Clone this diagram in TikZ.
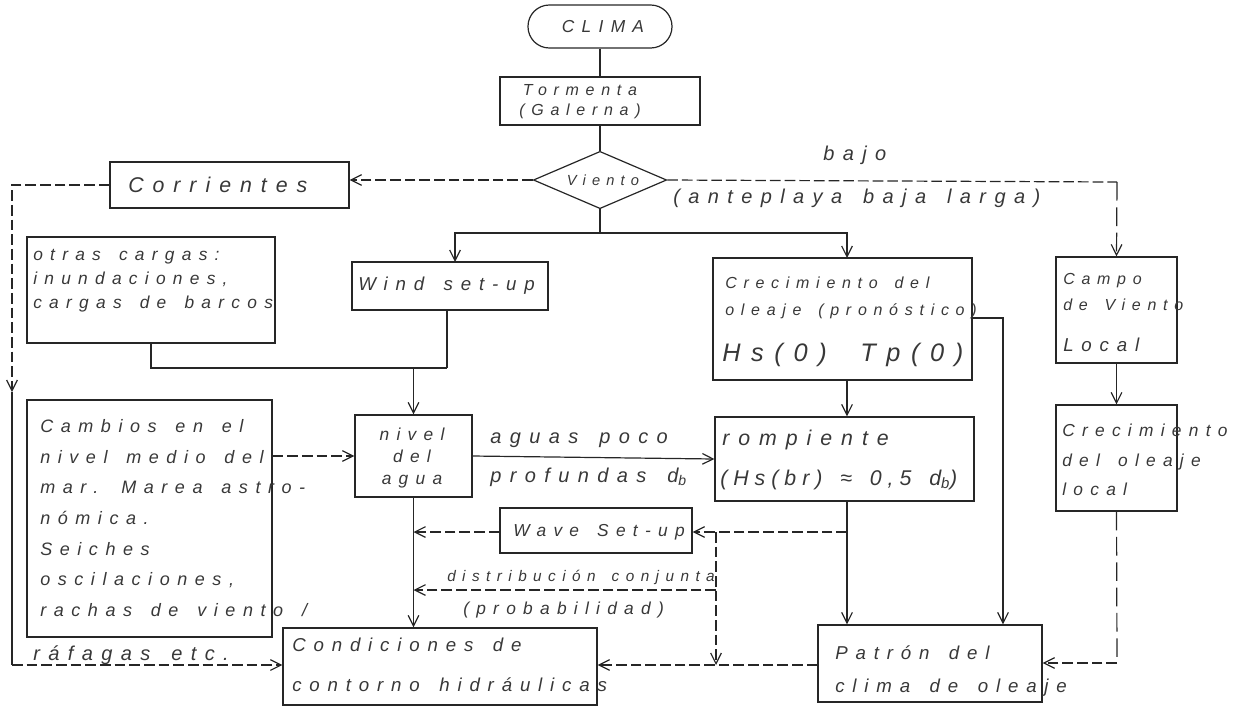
\documentclass[tikz,border=0pt]{standalone}
\usepackage{fontspec}
\setmainfont{Liberation Sans}
\newfontfamily\hand[LetterSpace=42, WordSpace=1.5]{Liberation Sans}
\usetikzlibrary{arrows.meta,shapes.geometric,fit}

\tikzset{
  ink/.style={draw=black!85, line width=0.9pt},
  box/.style={ink, rectangle, inner sep=0pt, fit={#1}},
  arr/.style={ink, -{Straight Barb[length=8pt,width=8pt]}},
  dsh/.style={dash pattern=on 8pt off 3pt},
  ldsh/.style={dash pattern=on 14pt off 5pt},
  hw/.style 2 args={inner sep=0pt, text=black!78, align=left, anchor=west,
    font=\hand\itshape\fontsize{#1}{#2}\selectfont},
}

\begin{document}
\begin{tikzpicture}[x=0.75pt, y=-0.75pt]
\useasboundingbox (0,0) rectangle (1259,708);

% ---------- shapes ----------
\node[ink, rectangle, rounded corners=16pt, inner sep=0pt, fit={(528,5) (672,48)}] (clima) {};
\node[box={(500,77) (700,125)}] (torm) {};
\node[ink, diamond, inner sep=0pt, minimum width=100pt, minimum height=43pt] (vien) at (600,180) {};
\node[box={(110,162) (349,208)}] (corr) {};
\node[box={(27,237) (275,343)}] (otras) {};
\node[box={(352,262) (548,310)}] (windsu) {};
\node[box={(713,258) (972,380)}] (crec) {};
\node[box={(1056,257) (1177,363)}] (campo) {};
\node[box={(1056,405) (1177,511)}] (crecl) {};
\node[box={(27,400) (272,637)}] (camb) {};
\node[box={(355,415) (472,497)}] (nivel) {};
\node[box={(715,417) (974,501)}] (romp) {};
\node[box={(500,508) (692,553)}] (wave) {};
\node[box={(283,628) (597,705)}] (cond) {};
\node[box={(818,625) (1042,702)}] (patron) {};

% ---------- texts ----------
\node[hw={13}{16}, anchor=center] (tclima) at (603,27) {CLIMA};
\node[hw={12}{15}, align=center, anchor=center] (ttorm) at (580,102) {Tormenta\\(Galerna)};
\node[hw={11}{14}, anchor=center] (tvien) at (603,180) {Viento};
\node[hw={16}{18}] (tcorr) at (128,185) {Corrientes};
\node[hw={15}{18}] (tbajo) at (823,155) {bajo};
\node[hw={15}{16}] (tante) at (673,198) {(anteplaya baja larga)};
\node[hw={13}{18}] (totras) at (33,281) {otras cargas:\\inundaciones,\\cargas de barcos};
\node[hw={14}{18}] (twind) at (358,286) {Wind set-up};
\node[hw={12}{20}] (tcrec) at (725,298) {Crecimiento del\\oleaje (pronóstico)};
\node[hw={19}{22}] (ths) at (722,355) {Hs(0)};
\node[hw={19}{22}] (ttp) at (860,355) {Tp(0)};
\node[hw={12}{19}] (tcampo) at (1063,292) {Campo\\de Viento};
\node[hw={14}{16}] (tlocal) at (1063,345) {Local};
\node[hw={13}{22}] (tcrecl) at (1062,460) {Crecimiento\\del oleaje\\local};
\node[hw={13}{16.5}, align=center, anchor=center] (tnivel) at (412,458) {nivel\\del\\agua};
\node[hw={15}{18}] (taguas) at (490,440) {aguas poco};
\node[hw={15}{18}] (tprof) at (490,477) {profundas d\textsubscript{b}};
\node[hw={16}{18}] (tromp) at (722,440) {rompiente};
\node[hw={16}{20}, font=\hand\itshape\addfontfeatures{LetterSpace=28}\fontsize{16}{20}\selectfont] (thsbr) at (720,480) {(Hs(br) ≈ 0,5 d\textsubscript{b})};
\node[hw={13}{16}] (twave) at (513,532) {Wave Set-up};
\node[hw={13.5}{23}] (tcamb) at (40,518) {Cambios en el\\nivel medio del\\mar. Marea astro-\\nómica.\\Seiches\\oscilaciones,\\rachas de viento /};
\node[hw={15}{16}] (trafa) at (33,655) {ráfagas etc.};
\node[hw={11.5}{16}] (tdist) at (447,577) {distribución conjunta};
\node[hw={13}{16}] (tprob) at (463,610) {(probabilidad)};
\node[hw={14}{30}] (tcond) at (292,665) {Condiciones de\\contorno hidráulicas};
\node[hw={14}{25}] (tpatr) at (835,671) {Patrón del\\clima de oleaje};

% ---------- junction points ----------
\coordinate (split) at (600,233);
\coordinate (leftA) at (12,185);
\coordinate (leftB) at (12,392);
\coordinate (leftC) at (12,665);
\coordinate (bajoA) at (1117,182);
\coordinate (join) at (447,368);
\coordinate (stubA) at (1003,318);
\coordinate (dlA) at (1117,663);
\coordinate (wvR) at (847,532);
\coordinate (dvA) at (716,532);
\coordinate (dvB) at (716,665);
\coordinate (diA) at (716,590);

% ---------- connectors ----------
\draw[ink] (clima.south) -- (torm.north);
\draw[ink] (torm.south) -- (vien.north);
\draw[ink] (vien.south) -- (split);
\draw[arr] (split) -| (455,262);
\draw[arr] (split) -| (847,258);
\draw[arr, dsh] (vien.west) -- (corr.east |- vien.west);
\draw[arr, dsh] (corr.west |- leftA) -- (leftA) -- (leftB);
\draw[ink] (leftB) -- (leftC);
\draw[arr, dsh] (leftC) -- (cond.west |- leftC);
\draw[ink, dsh] (vien.east) -- (bajoA);
\draw[arr, ldsh] (bajoA) -- (campo.north);
\draw[arr] (campo.south) -- (crecl.north);
\draw[ink, ldsh] (crecl.south) -- (dlA);
\draw[arr, dsh] (dlA) -- (patron.east |- dlA);
\draw[ink] (otras.south) |- (join);
\draw[ink] (windsu.south -| join) -- (join);
\draw[arr] (join -| nivel.north) -- (nivel.north);
\draw[arr, dsh] (camb.east |- nivel.west) -- (nivel.west);
\draw[arr] (nivel.east) -- (romp.west);
\draw[arr] (crec.south -| wvR) -- (romp.north -| wvR);
\draw[arr] (romp.south -| wvR) -- (patron.north -| wvR);
\draw[arr] (crec.east |- stubA) -- (stubA) -- (stubA |- patron.north);
\draw[arr, dsh] (wvR) -- (wave.east |- wvR);
\draw[arr, dsh] (wave.west |- wvR) -- (nivel.south |- wvR);
\draw[arr] (nivel.south) -- (nivel.south |- cond.north);
\draw[arr, dsh] (diA) -- (nivel.south |- diA);
\draw[arr, dsh] (dvA) -- (dvB);
\draw[arr, dsh] (patron.west |- dvB) -- (cond.east |- dvB);
\end{tikzpicture}
\end{document}
